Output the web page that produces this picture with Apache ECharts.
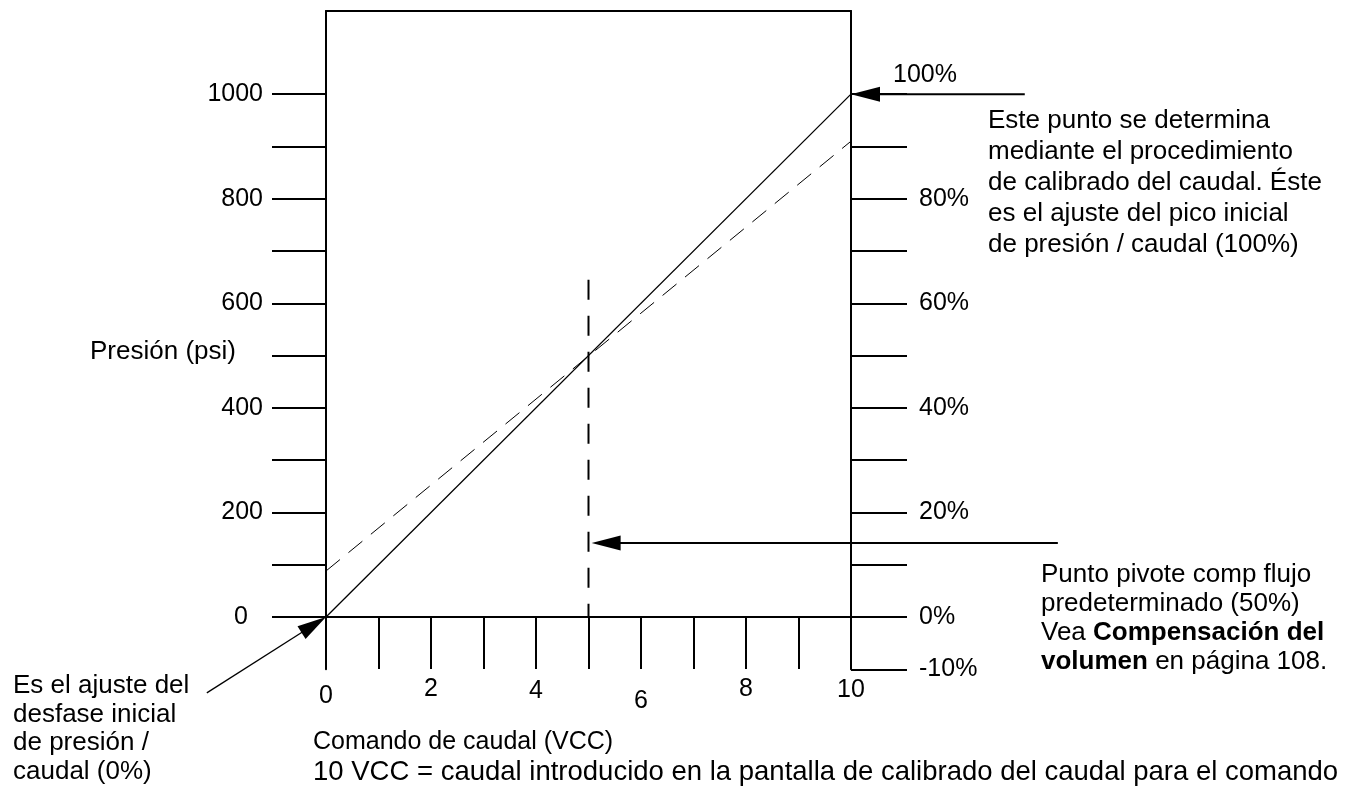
<!DOCTYPE html>
<html><head><meta charset="utf-8">
<script src="https://cdn.jsdelivr.net/npm/echarts@6/dist/echarts.min.js"></script>
<style>html,body{margin:0;padding:0;background:#fff}#c{width:1353px;height:788px}</style>
</head><body><div id="c"></div>
<script>
// ---- data ----
const xTicks = [0,1,2,3,4,5,6,7,8,9,10];
const xLabels = [0,2,4,6,8,10];
const pressureTicks = [0,100,200,300,400,500,600,700,800,900,1000];
const pressureLabels = [0,200,400,600,800,1000];
const percentTicks = [-10,0,10,20,30,40,50,60,70,80,90,100];
const percentLabels = [-10,0,20,40,60,80];
const solidLine = [[0,0],[10,1000]];
const dashedLine = [[0,88],[10,910]];
const pivotLine = [[5,645],[5,0]];
const arrowFrom = [[13.31,1000],[13.94,141.5],[-2.27,-145]];
const arrowTo   = [[10,1000],[5.06,141.5],[0,0]];
const peakLabel = '100%';
const yAxisName = 'Presión (psi)';
const xAxisName = ['Comando de caudal (VCC)','10 VCC = caudal introducido en la pantalla de calibrado del caudal para el comando'];
const noteTop = ['Este punto se determina','mediante el procedimiento','de calibrado del caudal. Éste','es el ajuste del pico inicial','de presión / caudal (100%)'];
const notePivot = ['Punto pivote comp flujo','predeterminado (50%)','Vea {b|Compensación del}','{b|volumen} en página 108.'];
const noteOffset = ['Es el ajuste del','desfase inicial','de presión /','caudal (0%)'];

// ---- layout / style ----
const FONT = "'Liberation Sans', Arial, Helvetica, sans-serif";
const NUM = 25, TXT = 26;
const xLabelPad = {0:7, 2:0, 4:2, 6:12, 8:0, 10:1};
const xRich = {};
xLabels.forEach(v => { xRich['s'+v] = {fontSize:NUM, fontFamily:FONT, color:'#000', padding:[xLabelPad[v]||0,0,0,0]}; });
const arrowWidths = [2, 2, 1.3];

const chart = echarts.init(document.getElementById('c'), null, {renderer:'canvas'});
const option = {
  backgroundColor:'#fff',
  animation:false,
  grid:{left:326, right:502, top:11, bottom:118.7, containLabel:false},
  xAxis:[{
    type:'value', min:0, max:10, interval:1, position:'bottom',
    axisLine:{show:true, onZero:true, onZeroAxisIndex:0, lineStyle:{color:'#000', width:2}},
    axisTick:{show:true, inside:false, length:52, customValues:xTicks, lineStyle:{color:'#000', width:2}},
    axisLabel:{show:true, customValues:xLabels, margin:7, fontSize:NUM, fontFamily:FONT, color:'#000',
      formatter: v => '{s'+v+'|'+v+'}', rich:xRich},
    splitLine:{show:false}
  },{
    type:'value', min:0, max:10, position:'top',
    axisLine:{show:true, onZero:false, lineStyle:{color:'#000', width:2}},
    axisTick:{show:false}, axisLabel:{show:false}, splitLine:{show:false}
  }],
  yAxis:[{
    type:'value', min:-100, max:1159, interval:100, position:'left',
    axisLine:{show:true, onZero:false, lineStyle:{color:'#000', width:2}},
    axisTick:{show:true, inside:false, length:54, customValues:pressureTicks, lineStyle:{color:'#000', width:2}},
    axisLabel:{show:true, customValues:pressureLabels, margin:63, fontSize:NUM, fontFamily:FONT, color:'#000',
      formatter: v => v===0 ? '{z|0}' : String(v),
      rich:{z:{fontSize:NUM, fontFamily:FONT, color:'#000', padding:[0,15,0,0]}}},
    splitLine:{show:false}
  },{
    type:'value', min:-10, max:115.9, interval:10, position:'right',
    axisLine:{show:true, onZero:false, lineStyle:{color:'#000', width:2}},
    axisTick:{show:true, inside:false, length:56, customValues:percentTicks, lineStyle:{color:'#000', width:2}},
    axisLabel:{show:true, customValues:percentLabels, margin:68, fontSize:NUM, fontFamily:FONT, color:'#000',
      formatter:'{value}%'},
    splitLine:{show:false}
  }],
  series:[
    {type:'line', data:solidLine, showSymbol:false, silent:true,
      lineStyle:{color:'#000', width:1.3}},
    {type:'line', data:dashedLine, showSymbol:false, silent:true,
      lineStyle:{color:'#000', width:1, type:[18,11]}},
    {type:'line', data:pivotLine, showSymbol:false, silent:true,
      lineStyle:{color:'#000', width:2, type:[20,16]}},
    {type:'custom', coordinateSystem:'cartesian2d', clip:false, silent:true,
      encode:{x:[0,2], y:[1,3]},
      data: arrowFrom.map((f,i) => [f[0], f[1], arrowTo[i][0], arrowTo[i][1]]),
      renderItem(params, api){
        const a = api.coord([api.value(0), api.value(1)]);
        const b = api.coord([api.value(2), api.value(3)]);
        const dx=b[0]-a[0], dy=b[1]-a[1], L=Math.hypot(dx,dy), ux=dx/L, uy=dy/L;
        const hl=29, hw=7.5;
        const base=[b[0]-ux*hl, b[1]-uy*hl];
        const px=-uy, py=ux;
        return {type:'group', children:[
          {type:'line', shape:{x1:a[0], y1:a[1], x2:base[0]+ux*2, y2:base[1]+uy*2},
            style:{stroke:'#000', lineWidth:arrowWidths[params.dataIndex]}},
          {type:'polygon', shape:{points:[b,[base[0]+px*hw, base[1]+py*hw],[base[0]-px*hw, base[1]-py*hw]]},
            style:{fill:'#000'}}
        ]};
      }
    }
  ],
  graphic:[
    {type:'text', left:893, top:63, style:{text:peakLabel, font:NUM+'px '+FONT, fill:'#000'}},
    {type:'text', left:90, top:339, style:{text:yAxisName, font:TXT+'px '+FONT, fill:'#000'}},
    {type:'text', left:988, top:105, style:{text:noteTop.join('\n'), font:TXT+'px '+FONT, fill:'#000', lineHeight:31}},
    {type:'text', left:1041, top:560, style:{text:notePivot.join('\n'), font:TXT+'px '+FONT, fill:'#000', lineHeight:29,
      rich:{b:{fontWeight:'bold', fontSize:TXT, fontFamily:FONT, fill:'#000', color:'#000', lineHeight:29}}}},
    {type:'text', left:13, top:672, style:{text:noteOffset.join('\n'), font:TXT+'px '+FONT, fill:'#000', lineHeight:28.5}},
    {type:'text', left:313, top:730, style:{text:xAxisName[0], font:'25px '+FONT, fill:'#000'}},
    {type:'text', left:313, top:758, style:{text:xAxisName[1], font:'27.5px '+FONT, fill:'#000'}}
  ]
};
chart.setOption(option);
</script>
</body></html>
